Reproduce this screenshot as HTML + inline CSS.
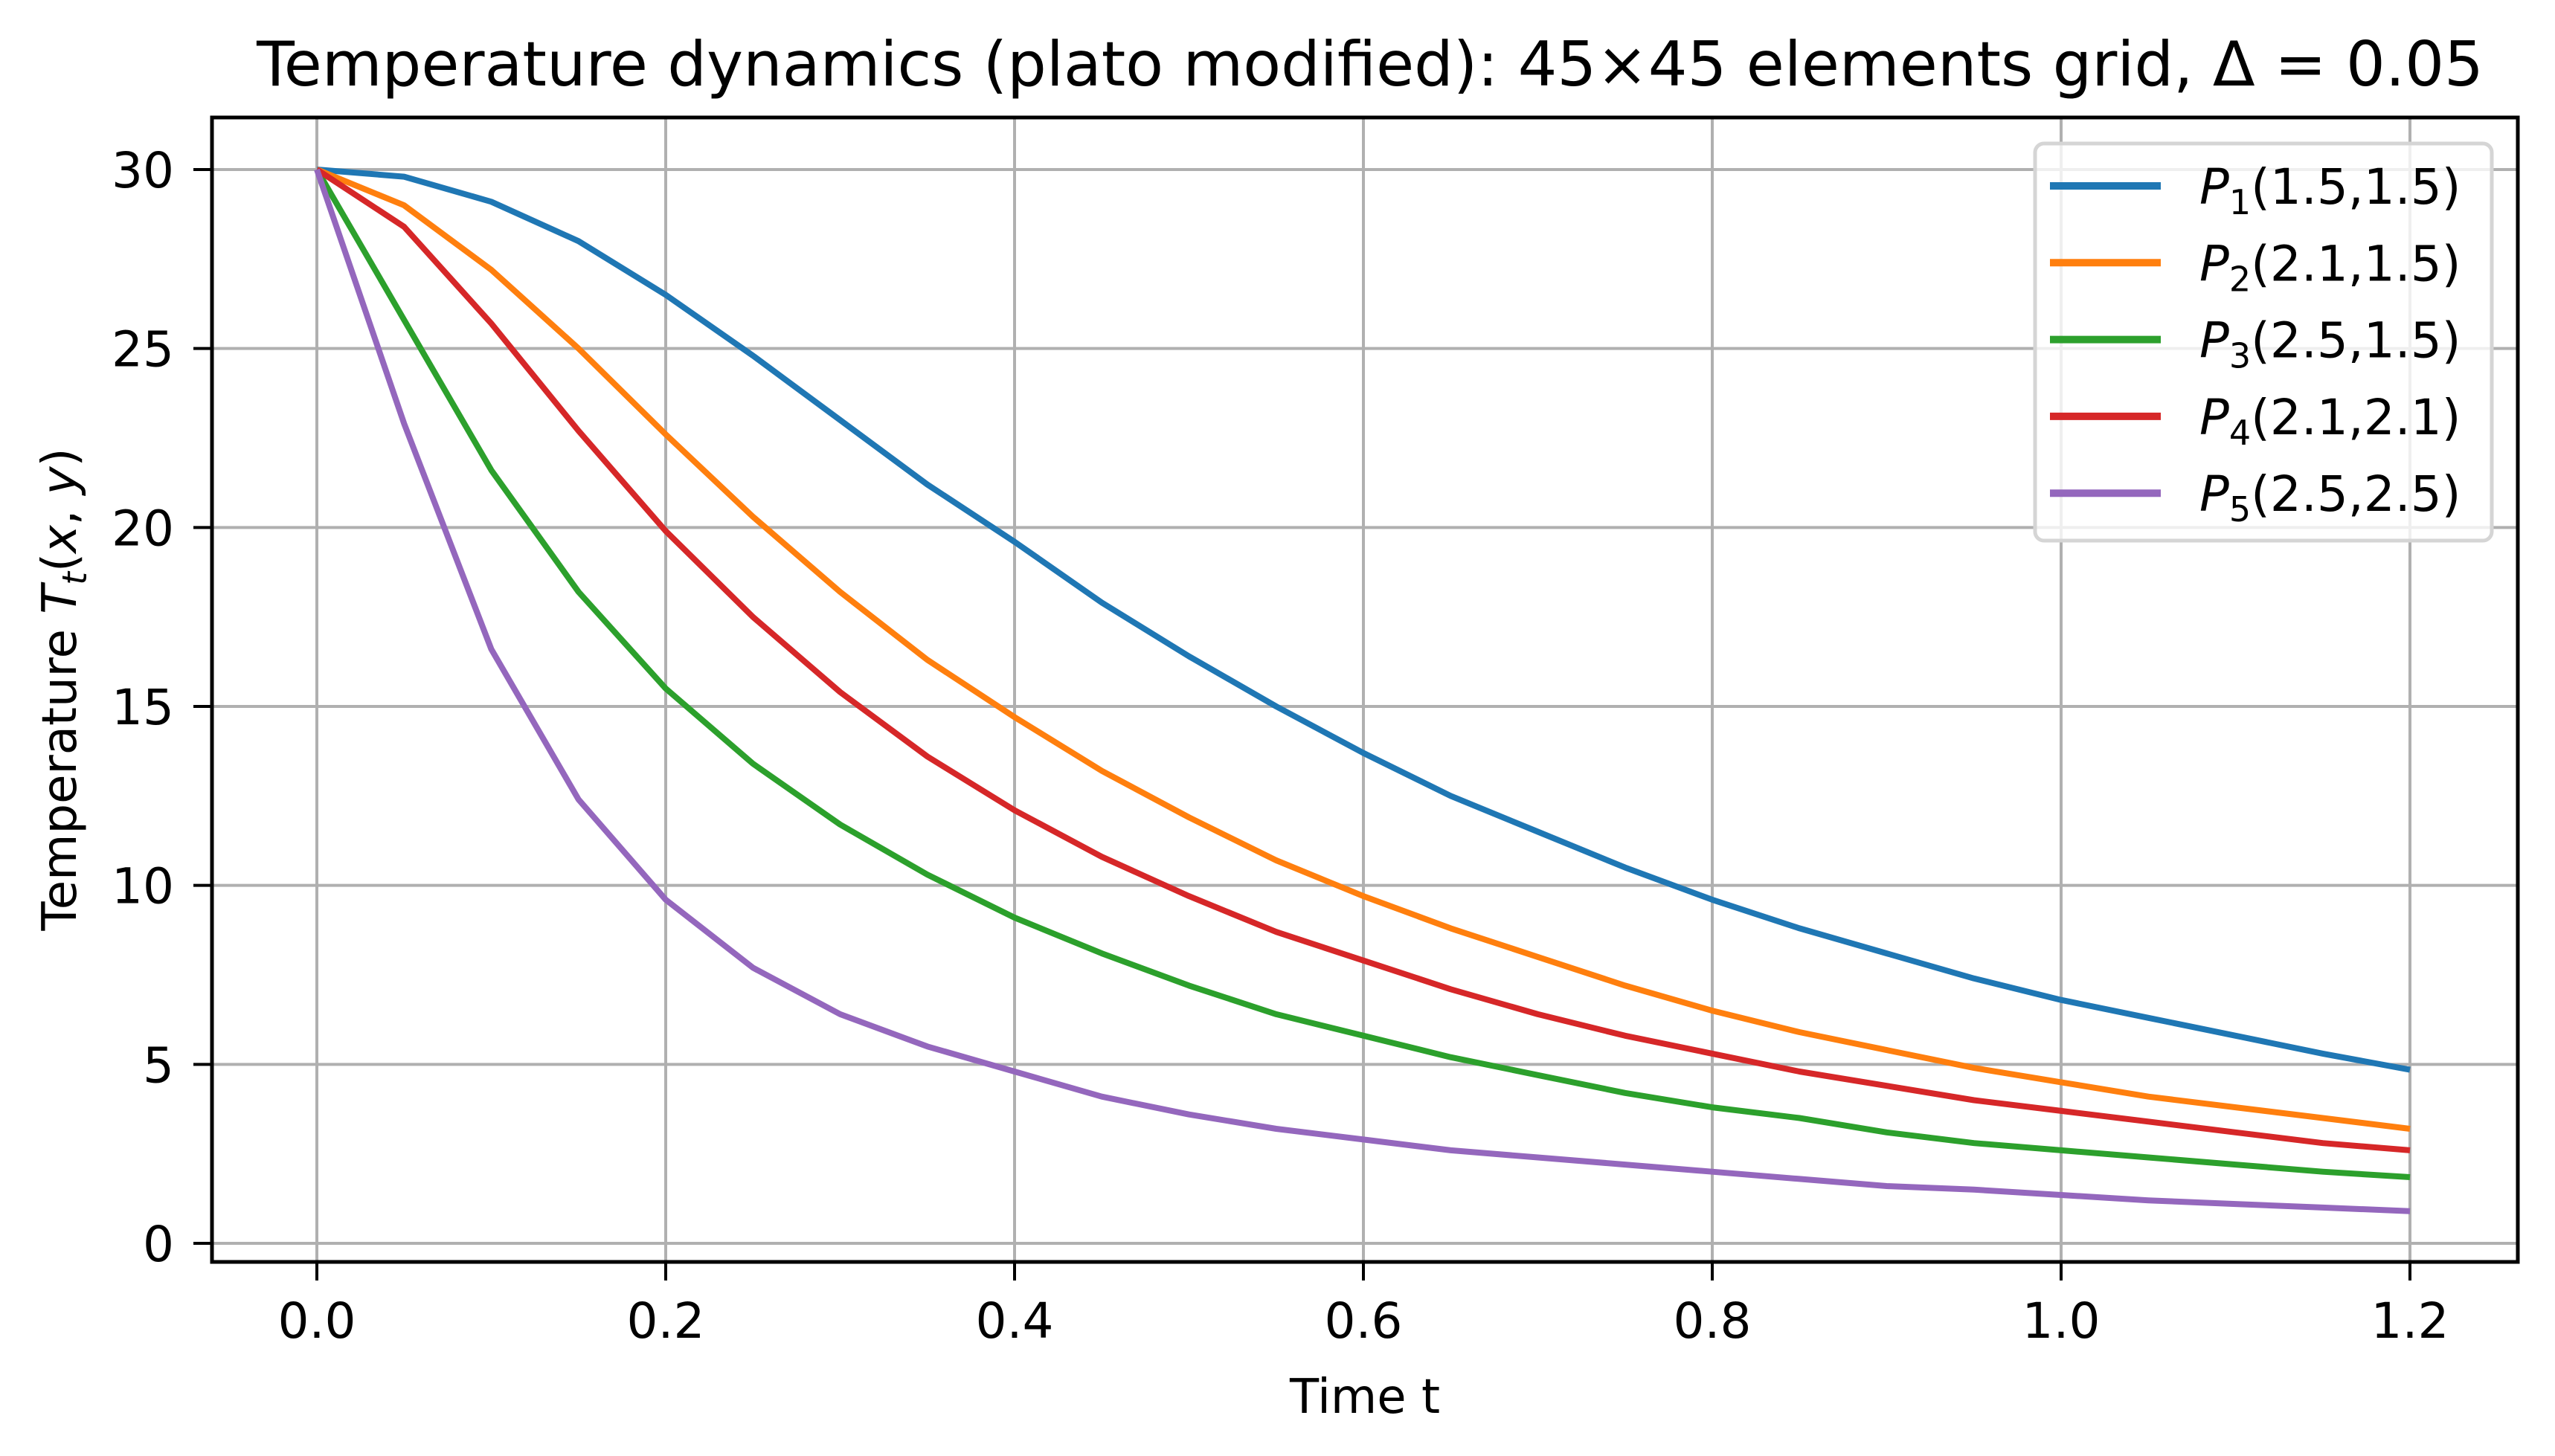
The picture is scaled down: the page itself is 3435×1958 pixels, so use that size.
<!DOCTYPE html>
<html><head><meta charset="utf-8"><style>
html,body{margin:0;padding:0;background:#fff;}
svg{display:block;font-family:"DejaVu Sans","Liberation Sans",sans-serif;}
</style></head><body>
<svg id="chart" width="3435" height="1958" viewBox="0 0 3435 1958" xmlns="http://www.w3.org/2000/svg">
<rect width="3435" height="1958" fill="#fff"/>
<g id="grid"></g>
<g id="series"></g>
<rect x="285" y="158" width="3100" height="1539" fill="none" stroke="#000" stroke-width="5"/>
<g id="ticks"></g>
<text x="1842" y="115" font-size="83" text-anchor="middle">Temperature dynamics (plato modified): 45×45 elements grid, Δ = 0.05</text>
<text x="1835" y="1900" font-size="64" text-anchor="middle">Time t</text>
<text transform="translate(102,927) rotate(-90)" font-size="64" text-anchor="middle">Temperature <tspan font-style="italic">T</tspan><tspan font-size="45" dy="14" font-style="italic">t</tspan><tspan dy="-14">(</tspan><tspan font-style="italic">x</tspan>, <tspan font-style="italic">y</tspan>)</text>
<g id="legend">
<rect x="2736" y="193" width="614" height="534" rx="12" fill="#fff" fill-opacity="0.8" stroke="#d5d5d5" stroke-width="5"/>
</g>
</svg>
<script>
const times = [0,0.05,0.1,0.15,0.2,0.25,0.3,0.35,0.4,0.45,0.5,0.55,0.6,0.65,0.7,0.75,0.8,0.85,0.9,0.95,1.0,1.05,1.1,1.15,1.2];
const p1 = [30,29.8,29.1,28.0,26.5,24.8,23.0,21.2,19.6,17.9,16.4,15.0,13.7,12.5,11.5,10.5,9.6,8.8,8.1,7.4,6.8,6.3,5.8,5.3,4.85];
const p2 = [30,29.0,27.2,25.0,22.6,20.3,18.2,16.3,14.7,13.2,11.9,10.7,9.7,8.8,8.0,7.2,6.5,5.9,5.4,4.9,4.5,4.1,3.8,3.5,3.2];
const p3 = [30,25.8,21.6,18.2,15.5,13.4,11.7,10.3,9.1,8.1,7.2,6.4,5.8,5.2,4.7,4.2,3.8,3.5,3.1,2.8,2.6,2.4,2.2,2.0,1.85];
const p4 = [30,28.4,25.7,22.7,19.9,17.5,15.4,13.6,12.1,10.8,9.7,8.7,7.9,7.1,6.4,5.8,5.3,4.8,4.4,4.0,3.7,3.4,3.1,2.8,2.6];
const p5 = [30,22.9,16.6,12.4,9.6,7.7,6.4,5.5,4.8,4.1,3.6,3.2,2.9,2.6,2.4,2.2,2.0,1.8,1.6,1.5,1.35,1.2,1.1,1.0,0.9];
const seriesNames = ["1|(1.5,1.5)","2|(2.1,1.5)","3|(2.5,1.5)","4|(2.1,2.1)","5|(2.5,2.5)"];
const xTicks = [0,0.2,0.4,0.6,0.8,1.0,1.2];
const xTickLabels = ["0.0","0.2","0.4","0.6","0.8","1.0","1.2"];
const yTicks = [0,5,10,15,20,25,30];

const NS="http://www.w3.org/2000/svg";
const colors=["#1f77b4","#ff7f0e","#2ca02c","#d62728","#9467bd"];
const allSeries=[p1,p2,p3,p4,p5];
function xs(t){return 426+(t-0)*(3240-426)/1.2;}
function ys(v){return 1672-v*(1672-228)/30;}
function mk(tag,attrs,parent){const e=document.createElementNS(NS,tag);for(const k in attrs)e.setAttribute(k,attrs[k]);parent.appendChild(e);return e;}
const grid=document.getElementById('grid'),ticks=document.getElementById('ticks'),ser=document.getElementById('series'),leg=document.getElementById('legend');
xTicks.forEach((t,i)=>{
  const g=mk('line',{x1:xs(t),x2:xs(t),y1:158,y2:1697,stroke:'#b0b0b0','stroke-width':4},grid);
  
  
  const tk=mk('line',{x1:xs(t),x2:xs(t),y1:1697,y2:1722,stroke:'#000','stroke-width':4},ticks);
  
  
  const tl=mk('text',{x:xs(t),y:1799,'font-size':66,'text-anchor':'middle'},ticks);
  tl.textContent=xTickLabels[i];
  
  
});
yTicks.forEach(v=>{
  const g=mk('line',{x1:285,x2:3385,y1:ys(v),y2:ys(v),stroke:'#b0b0b0','stroke-width':4},grid);
  
  
  const tk=mk('line',{x1:260,x2:285,y1:ys(v),y2:ys(v),stroke:'#000','stroke-width':4},ticks);
  
  
  const tl=mk('text',{x:234,y:ys(v)+24,'font-size':66,'text-anchor':'end'},ticks);
  tl.textContent=String(v);
  
  
});
allSeries.forEach((s,i)=>{
  const pts=s.map((v,j)=>xs(times[j]).toFixed(1)+','+ys(v).toFixed(1)).join(' ');
  const pl=mk('polyline',{points:pts,fill:'none',stroke:colors[i],'stroke-width':8,'stroke-linejoin':'round'},ser);
  
  
  const yy=250+i*103.3;
  const ll=mk('line',{x1:2756,x2:2905,y1:yy,y2:yy,stroke:colors[i],'stroke-width':10},leg);
  
  
  const parts=seriesNames[i].split('|');
  const tx=mk('text',{x:2957,y:yy+24,'font-size':66},leg);
  
  
  const a=mk('tspan',{'font-style':'italic'},tx);a.textContent='P';
  const b=mk('tspan',{'font-size':46,dy:14},tx);b.textContent=parts[0];
  const c=mk('tspan',{dy:-14},tx);c.textContent=parts[1];
});
</script>
</body></html>
